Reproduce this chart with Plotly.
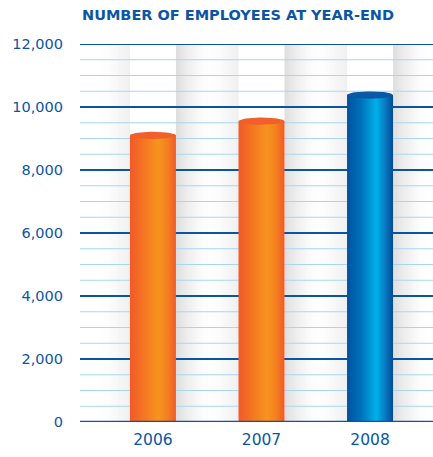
import math
import plotly.graph_objects as go

# Headcount at year-end
years = ["2006", "2007", "2008"]
employees = [9100, 9550, 10380]
highlight = [False, False, True]

y_major = [0, 2000, 4000, 6000, 8000, 10000, 12000]
y_major_text = ["0", "2,000", "4,000", "6,000", "8,000", "10,000", "12,000"]
y_minor_step = 500

BLUE_TEXT = "#0b56a4"
MAJOR_GRID = "#0a55a3"
MINOR_GRID = "#a8d6f0"

ORANGE_SCALE = [[0, "#f05a28"], [0.2, "#f36c24"], [0.62, "#f7941d"],
                [0.82, "#f47f21"], [1, "#ef5a27"]]
ORANGE_TOP = "#f15f2a"
BLUE_SCALE = [[0, "#0052a0"], [0.3, "#0070ba"], [0.64, "#00b0ea"],
              [0.82, "#0a7cc2"], [1, "#004b96"]]
BLUE_TOP = "#0a58a6"

W, H = 433, 457
M_L, M_R, M_T, M_B = 80, 0, 44, 35
x_range = [-0.672, 2.58]
px_per_unit = (W - M_L - M_R) / (x_range[1] - x_range[0])
half_w = 23 / px_per_unit
y_range = [0, 12000]
px_per_val = (H - M_T - M_B) / (y_range[1] - y_range[0])
cap_h = 3.6 / px_per_val  # half-height of the cylinder cap

fig = go.Figure()
shapes = []

# soft grey shadow columns around each cylinder
for i in range(len(years)):
    xl, xr = i - half_w, i + half_w
    step = 2 / px_per_unit
    # left side: fades in towards the bar
    n = 16
    for k in range(n):
        a = 0.10 * ((k + 1) / n) ** 1.5
        x0 = xl - (n - k) * step
        shapes.append(dict(type="rect", xref="x", yref="paper", x0=x0, x1=x0 + step,
                           y0=0, y1=1, layer="below", line_width=0,
                           fillcolor=f"rgba(110,110,115,{a:.3f})"))
    # right side: darker next to the bar, fading out
    n = 18
    for k in range(n):
        a = 0.22 * (1 - k / n) ** 1.7
        x0 = xr + k * step
        shapes.append(dict(type="rect", xref="x", yref="paper", x0=x0, x1=x0 + step,
                           y0=0, y1=1, layer="below", line_width=0,
                           fillcolor=f"rgba(110,110,115,{a:.3f})"))

# cylinders: gradient body plus elliptical cap
for i, (yr, v, hl) in enumerate(zip(years, employees, highlight)):
    xl, xr = i - half_w, i + half_w
    scale = BLUE_SCALE if hl else ORANGE_SCALE
    top = BLUE_TOP if hl else ORANGE_TOP
    fig.add_trace(go.Scatter(
        x=[xl, xl, xr, xr, xl], y=[0, v, v, 0, 0],
        mode="lines", line=dict(width=0), fill="toself",
        fillgradient=dict(type="horizontal", start=xl, stop=xr, colorscale=scale),
        hoverinfo="skip", showlegend=False))
    ts = [2 * math.pi * k / 60 for k in range(61)]
    fig.add_trace(go.Scatter(
        x=[i + half_w * math.cos(t) for t in ts],
        y=[v + cap_h * math.sin(t) for t in ts],
        mode="lines", line=dict(width=0), fill="toself", fillcolor=top,
        hoverinfo="skip", showlegend=False))

# grid lines: light minor lines and darker major lines
for yv in range(y_range[0], y_range[1] + 1, y_minor_step):
    if yv in y_major:
        continue
    shapes.append(dict(type="line", xref="paper", yref="y", x0=0, x1=1, y0=yv, y1=yv,
                       layer="below", line=dict(color=MINOR_GRID, width=1)))
for yv in y_major[1:]:
    shapes.append(dict(type="line", xref="paper", yref="y", x0=0, x1=1, y0=yv, y1=yv,
                       layer="below", line=dict(color=MAJOR_GRID, width=2)))
shapes.append(dict(type="line", xref="paper", yref="y", x0=0, x1=1, y0=0, y1=0,
                   layer="above", line=dict(color=MAJOR_GRID, width=2.5)))

fig.update_layout(
    width=W, height=H,
    margin=dict(l=M_L, r=M_R, t=M_T, b=M_B),
    paper_bgcolor="white", plot_bgcolor="white",
    shapes=shapes,
    xaxis=dict(range=x_range, tickvals=list(range(len(years))), ticktext=years,
               showgrid=False, zeroline=False, showline=False, ticks="",
               ticklabelstandoff=6,
               tickfont=dict(family="DejaVu Sans", size=15.5, color=BLUE_TEXT)),
    yaxis=dict(range=y_range, tickvals=y_major, ticktext=y_major_text,
               showgrid=False, zeroline=False, showline=False, ticks="",
               ticklabelstandoff=16,
               tickfont=dict(family="DejaVu Sans", size=14.5, color=BLUE_TEXT)),
    annotations=[dict(text="<b>NUMBER OF EMPLOYEES AT YEAR-END</b>",
                      xref="paper", yref="paper", x=0, y=1 + 29 / (H - M_T - M_B),
                      xanchor="left", yanchor="middle", showarrow=False,
                      font=dict(family="DejaVu Sans", size=14.5, color=BLUE_TEXT))],
)

fig.write_html("out.html")
